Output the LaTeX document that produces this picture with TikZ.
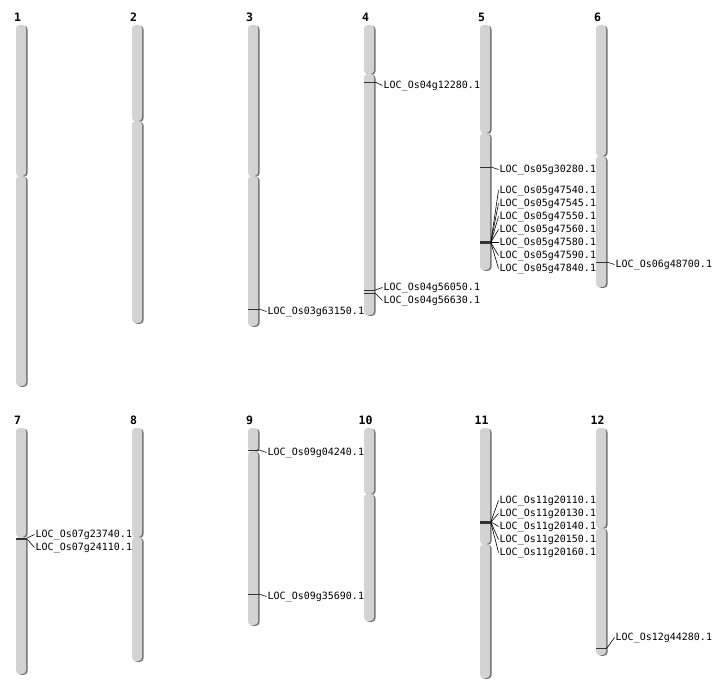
\documentclass[tikz,border=0pt]{standalone}
\usepackage{fontspec}
\usepackage{tikz}
\usepackage{xcolor}
\newfontfamily\genefont{DejaVu Sans Mono}
\definecolor{arm-gray}{HTML}{D3D3D3}
\definecolor{edge-gray}{HTML}{707070}
\definecolor{mark-gray}{HTML}{333333}
\tikzset{
    chrom-arm/.style = {fill=arm-gray, rounded corners=3.5pt},
    chrom-shadow/.style = {fill=edge-gray, rounded corners=3.5pt},
    chrom-title/.style = {inner sep=0pt, font=\genefont\bfseries\fontsize{11.5}{13}\selectfont},
    gene-label/.style = {anchor=west, inner sep=1pt, font=\genefont\fontsize{10}{12}\selectfont},
    gene-mark/.style = {draw=mark-gray, line width=0.9pt},
    gene-link/.style = {draw=black, line width=0.6pt},
}

\begin{document}
\begin{tikzpicture}[x=1pt, y=-1pt]
\useasboundingbox (0,0) rectangle (712,700);
% chromosomes: number / left edge / top / centromere / bottom
\foreach \n/\px/\ctop/\ccen/\cbot in {1/16/25/176/386, 2/132/25/121/323, 3/248/25/176/326,
    4/364/25/74/315, 5/480/25/133/270, 6/596/25/156/287, 7/16/428/537/674, 8/132/428/537/661,
    9/248/428/451/625, 10/364/428/494/621, 11/480/428/544/678, 12/596/428/528/655}{
    \fill[chrom-shadow] (\px+1.5,\ctop+0.8) rectangle (\px+11.5,\ccen+0.8);
    \fill[chrom-shadow] (\px+1.5,\ccen+0.8) rectangle (\px+11.5,\cbot+0.8);
    \fill[chrom-arm] (\px,\ctop) rectangle (\px+10,\ccen);
    \fill[chrom-arm] (\px,\ccen) rectangle (\px+10,\cbot);
    \node[chrom-title] (t\n) at (\px+1.5,\ctop-8) {\n};
}
% genes: left edge / marker / locus / label
\foreach \px/\my/\g/\ly in {248/309/03g63150/310,
    364/82/04g12280/84, 364/290/04g56050/286, 364/293/04g56630/299,
    480/167/05g30280/168, 480/241/05g47540/189, 480/241.5/05g47545/202, 480/242/05g47550/215,
    480/242/05g47560/228, 480/242.5/05g47580/241, 480/243/05g47590/254, 480/243/05g47840/267,
    596/262/06g48700/263,
    16/538/07g23740/533, 16/539/07g24110/546,
    248/450/09g04240/451, 248/594/09g35690/595,
    480/521.5/11g20110/499, 480/522/11g20130/512, 480/522/11g20140/525,
    480/522.5/11g20150/538, 480/523/11g20160/551,
    596/648/12g44280/636}{
    \coordinate (ml\g) at (\px,\my);
    \coordinate (mr\g) at (\px+11,\my);
    \node[gene-label] (g\g) at (\px+18.5,\ly+1.5) {LOC\_Os\g.1};
    \draw[gene-mark] (ml\g) -- (mr\g);
    \draw[gene-link] (mr\g) -- (g\g.west);
}
\end{tikzpicture}
\end{document}
